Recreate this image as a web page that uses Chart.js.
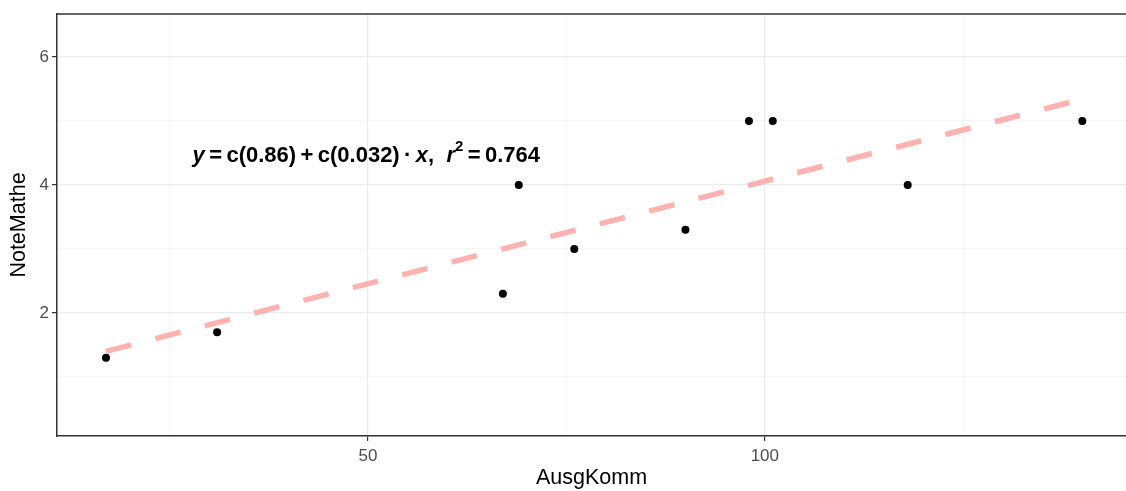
<!DOCTYPE html>
<html lang="de">
<head>
    <meta charset="UTF-8">
    <title>NoteMathe vs AusgKomm</title>
    <script src="https://cdn.jsdelivr.net/npm/chart.js"></script>
    <style>
        html, body { margin: 0; padding: 0; background: #fff; overflow: hidden; }
        canvas { display: block; }
    </style>
</head>
<body>
    <canvas id="chart" width="1126" height="491"></canvas>

    <script>
        // data
        const ausgKomm  = [17, 31, 67, 69, 76, 90, 98, 101, 118, 140];
        const noteMathe = [1.3, 1.7, 2.3, 4.0, 3.0, 3.3, 5.0, 5.0, 4.0, 5.0];

        // fitted line (end points of the dashed line)
        const fitX = [17, 140];
        const fitY = [1.40, 5.34];

        // axis ticks (major get a label, minor only a grid line)
        const xTicks = [25, 50, 75, 100, 125];
        const xMajor = [50, 100];
        const yTicks = [1, 2, 3, 4, 5, 6];
        const yMajor = [2, 4, 6];

        // annotation
        const labelPos = [27.9, 4.45];

        const FONT = "'Liberation Sans', Arial, Helvetica, sans-serif";

        const points = ausgKomm.map((x, i) => ({ x: x, y: noteMathe[i] }));
        const fitLine = fitX.map((x, i) => ({ x: x, y: fitY[i] }));

        // top panel border + formula text
        const extras = {
            id: 'extras',
            afterDraw(chart) {
                const ctx = chart.ctx;
                const a = chart.chartArea;
                ctx.save();
                ctx.strokeStyle = '#333333';
                ctx.lineWidth = 1.5;
                ctx.beginPath();
                ctx.moveTo(a.left, a.top);
                ctx.lineTo(a.right, a.top);
                ctx.stroke();

                const sx = chart.scales.x, sy = chart.scales.y;
                let px = sx.getPixelForValue(labelPos[0]);
                const py = sy.getPixelForValue(labelPos[1]);
                const parts = [
                    ['y', true, 0], ['\u2009=\u2009', false, 0], ['c(0.86)', false, 0],
                    ['\u2009+\u2009', false, 0], ['c(0.032)', false, 0], ['\u2009\u00b7\u2009', false, 0],
                    ['x', true, 0], [',  ', false, 0], ['r', true, 0], ['2', false, 1],
                    ['\u2009=\u2009', false, 0], ['0.764', false, 0]
                ];
                ctx.fillStyle = '#000';
                ctx.textBaseline = 'middle';
                ctx.textAlign = 'left';
                parts.forEach(([t, it, sup]) => {
                    const size = sup ? 15 : 22;
                    ctx.font = (it ? 'italic ' : '') + 'bold ' + size + 'px ' + FONT;
                    ctx.fillText(t, px, sup ? py - 9 : py);
                    px += ctx.measureText(t).width;
                });
                ctx.restore();
            }
        };

        const ctx = document.getElementById('chart').getContext('2d');
        new Chart(ctx, {
            type: 'scatter',
            data: {
                datasets: [
                    {
                        data: fitLine,
                        showLine: true,
                        borderColor: '#FFB2B0',
                        borderWidth: 5.5,
                        borderDash: [26, 25],
                        borderCapStyle: 'butt',
                        pointRadius: 0,
                        fill: false
                    },
                    {
                        data: points,
                        backgroundColor: '#000',
                        borderColor: '#000',
                        pointRadius: 4,
                        borderWidth: 0
                    }
                ]
            },
            plugins: [extras],
            options: {
                responsive: false,
                animation: false,
                layout: { autoPadding: false, padding: { top: 14, right: 0, left: 0, bottom: 0 } },
                plugins: {
                    legend: { display: false },
                    tooltip: { enabled: false }
                },
                scales: {
                    x: {
                        type: 'linear',
                        min: 10.83,
                        max: 145.5,
                        afterBuildTicks: s => { s.ticks = xTicks.map(v => ({ value: v })); },
                        afterFit: s => { s.height = 55; s.paddingLeft = 0; s.paddingRight = 0; },
                        border: { display: true, color: '#333333', width: 1.5 },
                        grid: {
                            color: c => xMajor.includes(c.tick.value) ? '#EBEBEB' : '#F2F2F2',
                            lineWidth: c => xMajor.includes(c.tick.value) ? 1.2 : 0.8,
                            tickColor: c => xMajor.includes(c.tick.value) ? '#333333' : 'rgba(0,0,0,0)',
                            tickLength: 5,
                            tickWidth: 1.2
                        },
                        ticks: {
                            autoSkip: false,
                            maxRotation: 0,
                            padding: 5,
                            color: '#4D4D4D',
                            font: { family: FONT, size: 17 },
                            callback: v => xMajor.includes(v) ? String(v) : ''
                        },
                        title: {
                            display: true,
                            text: 'AusgKomm',
                            color: '#000',
                            font: { family: FONT, size: 21.5 },
                            padding: { top: 2, bottom: 0 }
                        }
                    },
                    y: {
                        type: 'linear',
                        min: 0.078,
                        max: 6.67,
                        afterBuildTicks: s => { s.ticks = yTicks.map(v => ({ value: v })); },
                        afterFit: s => { s.width = 57; },
                        border: { display: true, color: '#333333', width: 1.5 },
                        grid: {
                            color: c => yMajor.includes(c.tick.value) ? '#EBEBEB' : '#F2F2F2',
                            lineWidth: c => yMajor.includes(c.tick.value) ? 1.2 : 0.8,
                            tickColor: c => yMajor.includes(c.tick.value) ? '#333333' : 'rgba(0,0,0,0)',
                            tickLength: 5,
                            tickWidth: 1.2
                        },
                        ticks: {
                            autoSkip: false,
                            padding: 3,
                            color: '#4D4D4D',
                            font: { family: FONT, size: 17 },
                            callback: v => yMajor.includes(v) ? String(v) : ''
                        },
                        title: {
                            display: true,
                            text: 'NoteMathe',
                            color: '#000',
                            font: { family: FONT, size: 21.5 },
                            padding: { top: 6, bottom: 0 }
                        }
                    }
                }
            }
        });
    </script>
</body>
</html>
